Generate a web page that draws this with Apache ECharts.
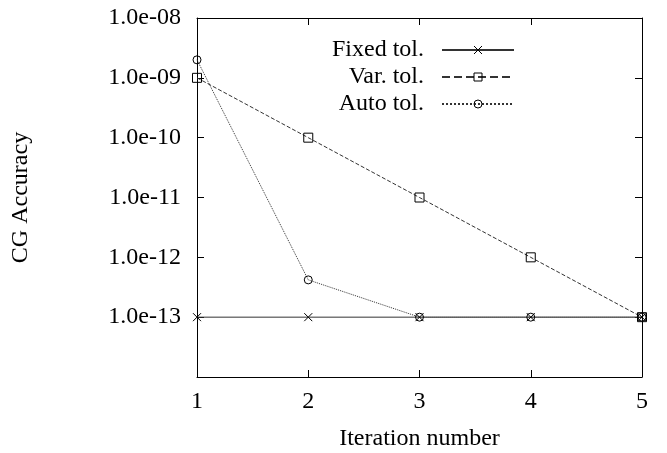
<!DOCTYPE html>
<html>
<head>
<meta charset="utf-8">
<script src="https://cdn.jsdelivr.net/npm/echarts@6/dist/echarts.min.js"></script>
<style>
  html, body { margin: 0; padding: 0; background: #fff; }
  #chart { width: 667px; height: 453px; }
</style>
</head>
<body>
<div id="chart"></div>
<script>
// iteration numbers
const iterations = [1, 2, 3, 4, 5]
// CG accuracy per iteration
const fixedTol = [1e-13, 1e-13, 1e-13, 1e-13, 1e-13]
const varTol = [1e-9, 1e-10, 1e-11, 1e-12, 1e-13]
const autoTol = [2e-9, 4.2e-13, 1e-13, 1e-13, 1e-13]
// y tick labels, from 1e-14 up to 1e-8 (bottom one left blank)
const yTickLabels = ['', '1.0e-13', '1.0e-12', '1.0e-11', '1.0e-10', '1.0e-09', '1.0e-08']

const FONT = 'Liberation Serif'
const FS = 24
const crossPath = 'path://M0,0L10,10M10,0L0,10'

function pairs (ys) {
  return iterations.map((x, i) => [x, ys[i]])
}

const chart = echarts.init(document.getElementById('chart'))

const xBase = {
  type: 'value',
  min: 1,
  max: 5,
  interval: 1,
  axisLine: { lineStyle: { color: '#000', width: 1 } },
  axisTick: { inside: true, length: 7, lineStyle: { color: '#000' } },
  splitLine: { show: false }
}
const yBase = {
  type: 'log',
  logBase: 10,
  min: 1e-14,
  max: 1e-8,
  axisLine: { lineStyle: { color: '#000', width: 1 } },
  axisTick: { inside: true, length: 7, lineStyle: { color: '#000' } },
  splitLine: { show: false },
  minorTick: { show: false }
}

function lineSeries (name, data, symbol, type, size) {
  return {
    name,
    type: 'line',
    data: pairs(data),
    symbol,
    symbolSize: size,
    showAllSymbol: true,
    color: '#000',
    lineStyle: { color: '#333', width: 1, type },
    itemStyle: { color: 'rgba(0,0,0,0)', borderColor: '#000', borderWidth: 1 },
    emphasis: { disabled: true },
    z: 3
  }
}

const option = {
  animation: false,
  backgroundColor: '#fff',
  textStyle: { fontFamily: FONT },
  grid: { left: 197, top: 18, right: 25, bottom: 76, outerBoundsMode: 'none', containLabel: false },
  legend: {
    orient: 'vertical',
    right: 152,
    top: 38,
    padding: 0,
    align: 'right',
    itemWidth: 72,
    itemHeight: 10,
    itemGap: 3,
    itemStyle: { borderWidth: 1 },
    textStyle: { fontFamily: FONT, fontSize: FS, lineHeight: 24, color: '#000', padding: [0, 13, 0, 0] },
    data: ['Fixed tol.', 'Var. tol.', 'Auto tol.']
  },
  xAxis: [
    Object.assign({}, xBase, {
      position: 'bottom',
      name: 'Iteration number',
      nameLocation: 'middle',
      nameGap: 50,
      nameTextStyle: { fontFamily: FONT, fontSize: FS, color: '#000' },
      axisLabel: { margin: 13, fontFamily: FONT, fontSize: FS, color: '#000' }
    }),
    Object.assign({}, xBase, { position: 'top', axisLabel: { show: false } })
  ],
  yAxis: [
    Object.assign({}, yBase, {
      position: 'left',
      name: 'CG Accuracy',
      nameLocation: 'middle',
      nameGap: 164,
      nameTextStyle: { fontFamily: FONT, fontSize: FS, color: '#000' },
      axisLabel: {
        margin: 16,
        fontFamily: FONT,
        fontSize: FS,
        color: '#000',
        formatter: v => yTickLabels[Math.round(Math.log10(v)) + 14] || ''
      }
    }),
    Object.assign({}, yBase, { position: 'right', axisLabel: { show: false } })
  ],
  series: [
    lineSeries('Fixed tol.', fixedTol, crossPath, 'solid', 8),
    lineSeries('Var. tol.', varTol, 'rect', 'dashed', 9),
    lineSeries('Auto tol.', autoTol, 'circle', 'dotted', 8)
  ]
}

chart.setOption(option)
</script>
</body>
</html>
